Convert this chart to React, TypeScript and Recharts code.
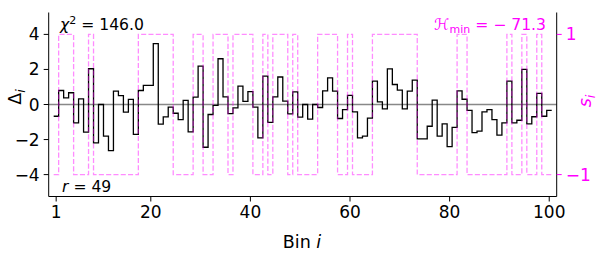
import React from 'react';
import { LineChart, Line, XAxis, YAxis, ReferenceLine } from 'recharts';

// residual per bin (left axis)
const deltas = [
  -0.67, 0.8, 0.38, 0.67, -1.05, 0.32, -1.58, 2.04, -2.19, 0,
  -1.81, -2.63, 0.76, 0.51, -0.44, 0.29, -1.71, 0.8, 1.09, 1.09,
  3.47, -1.12, -0.71, -0.15, -0.5, -0.86, 0.24, -1.56, 0.42, 2.19,
  -2.44, -0.57, -0.05, 2.61, 0.43, -0.52, -0.19, 1.05, 0.18, 0.73,
  -0.15, -1.9, 1.62, -1.02, 0.43, 1.57, 0.19, -0.53, 0.72, -0.72,
  0, -0.84, 0, -0.17, 0.78, 1.52, 0.76, -0.8, -0.29, 0.52,
  -0.42, -1.9, -1.81, -0.78, 1.33, 0.15, -0.25, 2.03, 1.14, 0.82,
  -0.25, 0.76, 1.39, -1.96, -1.96, -1.24, 0.25, -1.8, -1.1, -2.4,
  -1.3, 0.78, 0.3, -0.34, -1.6, -1.52, -0.42, -0.29, -0.86, -1.75,
  -1.05, 1.33, -1.05, -0.9, 2.0, -1.1, -0.7, 0.63, -0.67, -0.34,
];

// sign per bin (right axis)
const signs = [
  -1, 1, 1, 1, -1, -1, -1, 1, -1, -1,
  -1, -1, -1, -1, -1, -1, -1, 1, 1, 1,
  1, 1, 1, 1, -1, -1, -1, -1, 1, 1,
  -1, -1, 1, 1, 1, -1, 1, 1, 1, 1,
  -1, -1, 1, -1, 1, 1, 1, -1, 1, -1,
  -1, -1, -1, 1, 1, 1, 1, -1, -1, 1,
  -1, -1, -1, -1, 1, 1, 1, 1, 1, 1,
  1, 1, 1, -1, -1, -1, -1, -1, -1, -1,
  -1, 1, 1, -1, -1, -1, -1, -1, -1, -1,
  -1, 1, -1, -1, 1, -1, -1, 1, -1, -1,
];

const xTicks = [1, 20, 40, 60, 80, 100];
const leftTicks = [-4, -2, 0, 2, 4];
const rightTicks = [-1, 1];

const FONT = 'DejaVu Sans';
const MAGENTA = '#ff00ff';
const TICK_FS = 17;
const NOTE_FS = 15.6;

// step edges: bin i spans i-0.5 .. i+0.5
const rows = deltas.map((d, k) => ({ x: k + 0.5, delta: d, s: signs[k] }));
rows.push({ x: deltas.length + 0.5, delta: deltas[deltas.length - 1], s: signs[signs.length - 1] });

const minus = (v: number) => String(v).replace('-', '\u2212');

export default function App() {
  return (
    <div style={{ position: 'absolute', left: 0, top: 0, width: 600, height: 254, background: '#fff' }}>
      <LineChart
        width={600}
        height={254}
        data={rows}
        margin={{ top: 12.5, right: 0, bottom: 0, left: 0 }}
      >
        <XAxis
          xAxisId="b"
          dataKey="x"
          type="number"
          domain={[-0.5, 101.5]}
          ticks={xTicks}
          height={57.5}
          tickSize={5}
          tickMargin={4}
          stroke="#000"
          tick={{ fill: '#000', fontSize: TICK_FS, fontFamily: FONT }}
          axisLine={{ stroke: '#000', strokeWidth: 1 }}
        />
        <XAxis
          xAxisId="t"
          dataKey="x"
          type="number"
          orientation="top"
          domain={[-0.5, 101.5]}
          height={0}
          tick={false}
          tickLine={false}
          axisLine={{ stroke: '#000', strokeWidth: 1 }}
        />
        <YAxis
          yAxisId="l"
          domain={[-5.25, 5.25]}
          ticks={leftTicks}
          width={48.7}
          tickSize={5}
          tickMargin={4}
          tickFormatter={minus}
          stroke="#000"
          tick={{ fill: '#000', fontSize: TICK_FS, fontFamily: FONT }}
          axisLine={{ stroke: '#000', strokeWidth: 1 }}
        />
        <YAxis
          yAxisId="r"
          orientation="right"
          domain={[-1.3125, 1.3125]}
          ticks={rightTicks}
          width={43.3}
          tickSize={5}
          tickMargin={4}
          tickFormatter={minus}
          tickLine={{ stroke: MAGENTA }}
          tick={{ fill: MAGENTA, fontSize: TICK_FS, fontFamily: FONT }}
          axisLine={{ stroke: '#000', strokeWidth: 1 }}
        />
        <ReferenceLine xAxisId="b" yAxisId="l" y={0} stroke="#888" strokeWidth={1.3} />
        <Line
          xAxisId="b"
          yAxisId="l"
          dataKey="delta"
          type="stepAfter"
          stroke="#000"
          strokeWidth={1.3}
          dot={false}
          isAnimationActive={false}
        />
        <Line
          xAxisId="b"
          yAxisId="r"
          dataKey="s"
          type="stepAfter"
          stroke={MAGENTA}
          strokeOpacity={0.45}
          strokeWidth={1.3}
          strokeDasharray="5.1 2.2"
          dot={false}
          isAnimationActive={false}
        />
      </LineChart>
      <svg
        width={600}
        height={254}
        style={{ position: 'absolute', left: 0, top: 0, pointerEvents: 'none' }}
        fontFamily={FONT}
      >
        <text x={60} y={30} fontSize={NOTE_FS} fill="#000">
          <tspan fontStyle="italic">χ</tspan>
          <tspan dy={-6} fontSize={11}>2</tspan>
          <tspan dy={6}> = 146.0</tspan>
        </text>
        <text x={62} y={192} fontSize={NOTE_FS} fill="#000">
          <tspan fontStyle="italic">r</tspan> = 49
        </text>
        <text x={546} y={30} fontSize={NOTE_FS} fill={MAGENTA} textAnchor="end">
          ℋ<tspan dy={3} fontSize={11}>min</tspan>
          <tspan dy={-3}> = − 71.3</tspan>
        </text>
        <text x={302} y={248} fontSize={17.5} fill="#000" textAnchor="middle">
          Bin <tspan fontStyle="italic">i</tspan>
        </text>
        <text x={21} y={97} fontSize={17.5} fill="#000" textAnchor="middle" transform="rotate(-90 21 97)">
          Δ<tspan dy={4} fontSize={12.5} fontStyle="italic">i</tspan>
        </text>
        <text x={591} y={101} fontSize={17.5} fill={MAGENTA} textAnchor="middle" transform="rotate(-90 591 101)">
          <tspan fontStyle="italic">s</tspan>
          <tspan dy={4} fontSize={12.5} fontStyle="italic">i</tspan>
        </text>
      </svg>
    </div>
  );
}
